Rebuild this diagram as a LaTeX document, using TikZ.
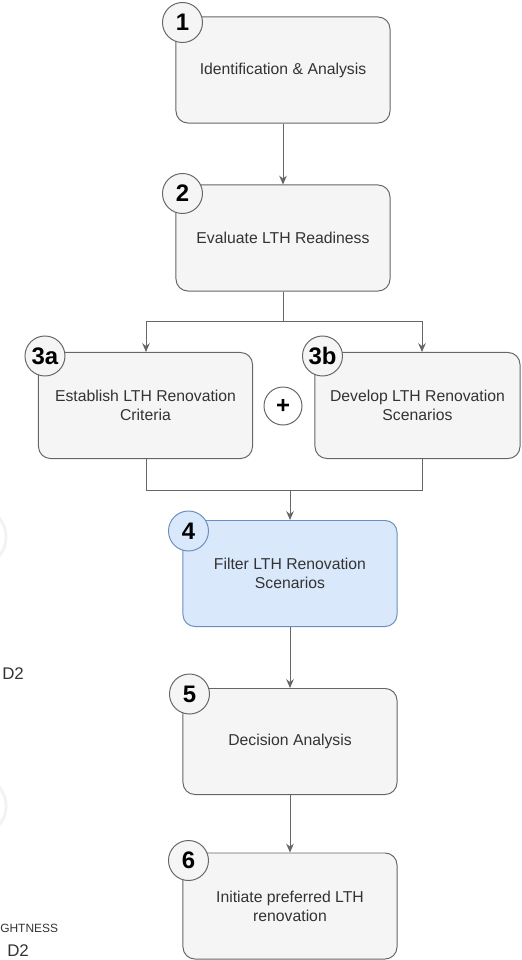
\documentclass[tikz,border=0pt]{standalone}
\usepackage{fontspec}
\setmainfont{Liberation Sans}
\usepackage{xcolor}
\usetikzlibrary{
  arrows.meta
}

\definecolor{boxfill}{HTML}{F5F5F5}
\definecolor{boxline}{HTML}{666666}
\definecolor{boxtext}{HTML}{333333}
\definecolor{bluefill}{HTML}{DAE8FC}
\definecolor{blueline}{HTML}{6C8EBF}

\begin{document}
\begin{tikzpicture}[%スタイル設定
          x=0.025cm, y=-0.025cm,
          stepbox/.style={
              draw=boxline, fill=boxfill,
              rounded corners=0.3cm, line width=0.7pt,
              text=boxtext, align=center, inner sep=0pt,
              minimum width=5.35cm, minimum height=2.65cm,
              font=\fontsize{11.2}{13.5}\selectfont
            },bluebox/.style={
              stepbox, draw=blueline, fill=bluefill
            },numcirc/.style={
              circle, draw=boxline, fill=boxfill,
              line width=0.7pt, inner sep=0pt,
              minimum size=1cm,
              font=\fontsize{17}{17}\bfseries\selectfont
            },conn/.style={
              draw=boxline, line width=0.7pt
            },flow/.style={
              conn, -{Stealth[length=2.2mm,width=1.9mm]}
            },cuttext/.style={
              anchor=west, inner sep=0pt, text=boxtext
            }
        ]
        \useasboundingbox (0,0) rectangle (521,960);

        % 左端で切れている部分
        \draw[gray!10, line width=2pt] (-24,537) circle (30);
        \draw[gray!10, line width=2pt] (-24,806) circle (30);
        \node[cuttext, font=\fontsize{12}{12}\selectfont] (d2a) at (2,674) {D2};
        \node[cuttext, font=\fontsize{8.5}{8.5}\selectfont] (tail) at (0,928) {GHTNESS};
        \node[cuttext, font=\fontsize{12}{12}\selectfont] (d2b) at (7,951) {D2};

        % ステップの箱
        \node[stepbox] (n1) at (283,70) {Identification \& Analysis};
        \node[stepbox] (n2) at (283,238) {Evaluate LTH Readiness};
        \node[stepbox] (n3a) at (145.5,405.5) {Establish LTH Renovation\\Criteria};
        \node[stepbox, minimum width=5.125cm] (n3b) at (417.5,405.5) {Develop LTH Renovation\\Scenarios};
        \node[bluebox] (n4) at (290,573.5) {Filter LTH Renovation\\Scenarios};
        \node[stepbox] (n5) at (290,741.5) {Decision Analysis};
        \node[stepbox] (n6) at (290,906) {Initiate preferred LTH\\renovation};

        % 番号の丸
        \node[numcirc] (c1) at ([shift={(7,6)}]n1.north west) {1};
        \node[numcirc] (c2) at ([shift={(7,9)}]n2.north west) {2};
        \node[numcirc] (c3a) at ([shift={(7,4)}]n3a.north west) {3a};
        \node[numcirc] (c3b) at ([shift={(8,4)}]n3b.north west) {3b};
        \node[numcirc, draw=blueline, fill=bluefill] (c4) at ([shift={(6,11)}]n4.north west) {4};
        \node[numcirc] (c5) at ([shift={(7,6)}]n5.north west) {5};
        \node[numcirc] (c6) at ([shift={(6,8)}]n6.north west) {6};
        \node[numcirc, fill=white, minimum size=0.95cm] (plus) at (283,406) {+};

        % 分岐と合流の座標
        \coordinate (split) at (283,321);
        \coordinate (splitL) at (146,321);
        \coordinate (splitR) at (422,321);
        \coordinate (join) at (290,490);
        \coordinate (joinL) at (146,490);
        \coordinate (joinR) at (422,490);

        % 矢印
        \draw[flow] (n1.south) -- (n2.north);
        \draw[conn] (n2.south) -- (split);
        \draw[conn] (splitL) -- (splitR);
        \draw[flow] (splitL) -- (splitL |- n3a.north);
        \draw[flow] (splitR) -- (splitR |- n3b.north);
        \draw[conn] (joinL |- n3a.south) -- (joinL) -- (joinR) -- (joinR |- n3b.south);
        \draw[flow] (join) -- (n4.north);
        \draw[flow] (n4.south) -- (n5.north);
        \draw[flow] (n5.south) -- (n6.north);

      \end{tikzpicture}
\end{document}
